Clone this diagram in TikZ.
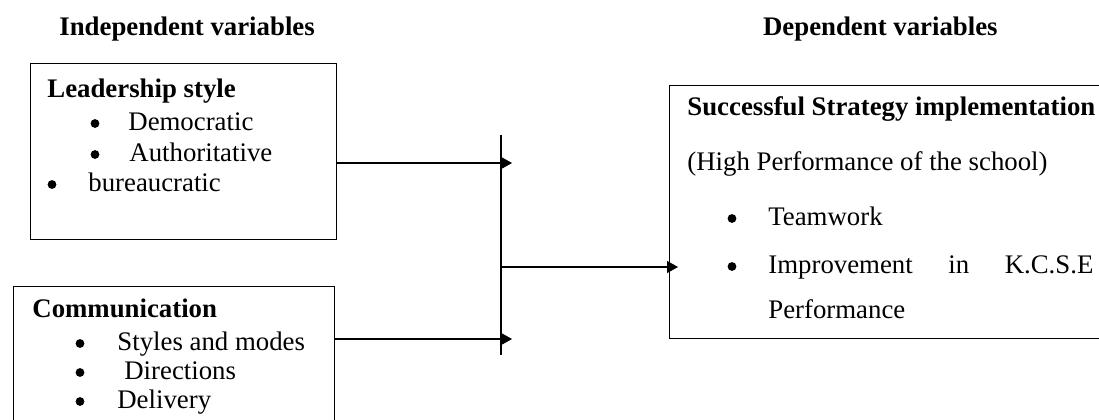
\documentclass[tikz,border=0pt]{standalone}
\usepackage{fontspec}
\setmainfont{Liberation Serif}
\usetikzlibrary{arrows.meta}

\begin{document}
\begin{tikzpicture}[x=0.5pt,y=-0.5pt,
    font=\fontsize{13.4}{16}\selectfont,
    txt/.style={anchor=base west,inner sep=0pt},
    bul/.style={circle,fill,inner sep=0pt,minimum size=4.4pt},
    box/.style={draw,line width=0.6pt,anchor=north west,inner sep=0pt},
    arr/.style={line width=0.6pt,-{Triangle[length=5.5pt,width=6pt]}}]
  \useasboundingbox (0,0) rectangle (1099,419);
  \clip (0,0) rectangle (1099,419);

  % Titles
  \node[txt] (indep) at (59,35) {\bfseries Independent variables};
  \node[txt,anchor=base east] (dep) at (998,35) {\bfseries Dependent variables};

  % Leadership style
  \node[box,minimum width=153pt,minimum height=88pt] (lbox) at (30,63) {};
  \node[txt] (lead) at (47,97) {\bfseries Leadership style};
  \node[bul] (demob) at (95,123.5) {};
  \node[txt] (demo) at (128,130) {Democratic};
  \node[bul] (authb) at (95,154.5) {};
  \node[txt] (auth) at (129,161) {Authoritative};
  \node[bul] (burob) at (52,184.5) {};
  \node[txt] (buro) at (88,191) {bureaucratic};

  % Communication
  \node[box,minimum width=160.5pt,minimum height=72pt] (cbox) at (13,286) {};
  \node[txt] (comm) at (32,317) {\bfseries Communication};
  \node[bul] (stylb) at (80,343.5) {};
  \node[txt] (styl) at (117,350) {Styles and modes};
  \node[bul] (dirb) at (80,372.5) {};
  \node[txt] (dir) at (124,379) {Directions};
  \node[bul] (delb) at (80,401.5) {};
  \node[txt] (del) at (117,408) {Delivery};

  % Successful Strategy implementation
  \node[box,minimum width=220.5pt,minimum height=126.5pt] (sbox) at (669,85) {};
  \node[txt] (succ) at (687,115) {\bfseries Successful Strategy implementation};
  \node[txt] (high) at (687,170) {(High Performance of the school)};
  \node[bul] (teamb) at (732,218.5) {};
  \node[txt] (team) at (768,225) {Teamwork};
  \node[bul] (imprb) at (732,266.5) {};
  \node[txt] (impr) at (768,273) {\makebox[162.5pt][s]{Improvement in K.C.S.E}};
  \node[txt] (perf) at (768,318) {Performance};

  % Connectors
  \coordinate (bustop) at (501,135);
  \coordinate (busbot) at (501,355);
  \coordinate (busmid) at (501,267);
  \coordinate (in1) at (512,163);
  \coordinate (in2) at (512,339);
  \draw[line width=0.6pt] (bustop) -- (busbot);
  \draw[arr] (lbox.east |- in1) -- (in1);
  \draw[arr] (cbox.east |- in2) -- (in2);
  \draw[arr,shorten >=-4.5pt] (busmid) -- (sbox.west |- busmid);
\end{tikzpicture}
\end{document}
